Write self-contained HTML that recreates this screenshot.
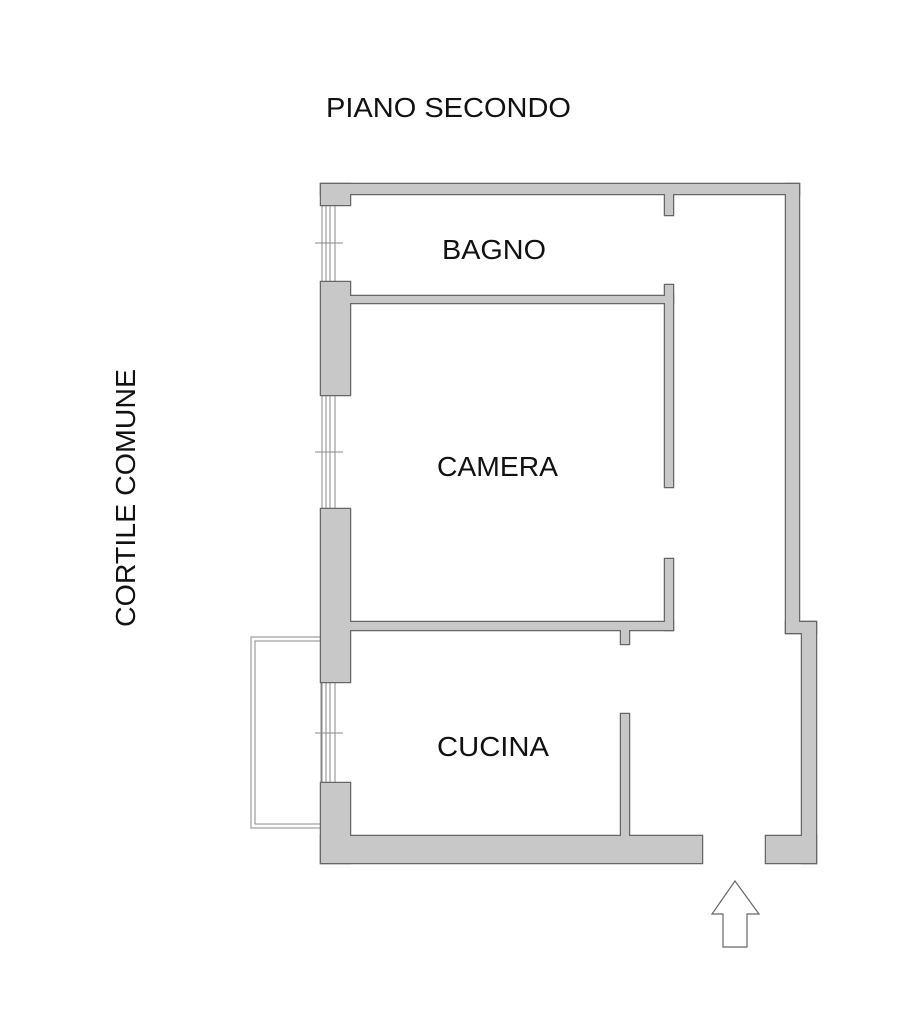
<!DOCTYPE html>
<html><head><meta charset="utf-8"><style>html,body{margin:0;padding:0;background:#fff}svg{display:block}
.s rect{fill:#c8c8c8;stroke:#666;stroke-width:2.5}
.f rect{fill:#c8c8c8;stroke:none}
</style></head>
<body>
<svg width="924" height="1024" viewBox="0 0 924 1024" xmlns="http://www.w3.org/2000/svg" font-family="Liberation Sans, sans-serif" fill="#111">
<g font-size="28">
<text x="326" y="117" textLength="245" lengthAdjust="spacingAndGlyphs">PIANO SECONDO</text>
<text x="442" y="259" textLength="104" lengthAdjust="spacingAndGlyphs">BAGNO</text>
<text x="437" y="476" textLength="121" lengthAdjust="spacingAndGlyphs">CAMERA</text>
<text x="437" y="756" textLength="112" lengthAdjust="spacingAndGlyphs">CUCINA</text>
<text transform="translate(135,627) rotate(-90)" textLength="258" lengthAdjust="spacingAndGlyphs">CORTILE COMUNE</text>
</g>
<g stroke="#888" stroke-width="1" fill="none">
<line x1="322" y1="205" x2="322" y2="282"/><line x1="326" y1="205" x2="326" y2="282"/><line x1="330" y1="205" x2="330" y2="282"/><line x1="335" y1="205" x2="335" y2="282"/>
<line x1="322" y1="395" x2="322" y2="509"/><line x1="326" y1="395" x2="326" y2="509"/><line x1="330" y1="395" x2="330" y2="509"/><line x1="335" y1="395" x2="335" y2="509"/>
<line x1="322" y1="682" x2="322" y2="783"/><line x1="326" y1="682" x2="326" y2="783"/><line x1="330" y1="682" x2="330" y2="783"/><line x1="335" y1="682" x2="335" y2="783"/>
<line x1="315" y1="243" x2="343" y2="243"/><line x1="315" y1="452" x2="343" y2="452"/><line x1="315" y1="733" x2="343" y2="733"/>
<rect x="251" y="637" width="70" height="191"/><rect x="255" y="641" width="66" height="183"/>
</g>
<g class="s">
<rect x="321" y="184" width="478" height="10"/>
<rect x="321" y="184" width="29" height="21"/>
<rect x="786" y="184" width="13" height="449"/>
<rect x="786" y="622" width="30" height="11"/>
<rect x="802" y="622" width="14" height="241"/>
<rect x="766" y="836" width="50" height="27"/>
<rect x="321" y="836" width="381" height="27"/>
<rect x="321" y="783" width="29" height="80"/>
<rect x="321" y="509" width="29" height="173"/>
<rect x="321" y="282" width="29" height="113"/>
<rect x="346" y="296" width="327" height="7"/>
<rect x="665" y="285" width="8" height="202"/>
<rect x="665" y="192" width="8" height="23"/>
<rect x="346" y="622" width="327" height="8"/>
<rect x="665" y="559" width="8" height="71"/>
<rect x="621" y="626" width="8" height="18"/>
<rect x="621" y="714" width="8" height="126"/>
</g>
<g class="f">
<rect x="321" y="184" width="478" height="10"/>
<rect x="321" y="184" width="29" height="21"/>
<rect x="786" y="184" width="13" height="449"/>
<rect x="786" y="622" width="30" height="11"/>
<rect x="802" y="622" width="14" height="241"/>
<rect x="766" y="836" width="50" height="27"/>
<rect x="321" y="836" width="381" height="27"/>
<rect x="321" y="783" width="29" height="80"/>
<rect x="321" y="509" width="29" height="173"/>
<rect x="321" y="282" width="29" height="113"/>
<rect x="346" y="296" width="327" height="7"/>
<rect x="665" y="285" width="8" height="202"/>
<rect x="665" y="192" width="8" height="23"/>
<rect x="346" y="622" width="327" height="8"/>
<rect x="665" y="559" width="8" height="71"/>
<rect x="621" y="626" width="8" height="18"/>
<rect x="621" y="714" width="8" height="126"/>
</g>
<polygon points="735,881 759,914 747,914 747,947 723,947 723,914 712,914" fill="#fff" stroke="#666" stroke-width="1.2"/>
</svg>
</body></html>
